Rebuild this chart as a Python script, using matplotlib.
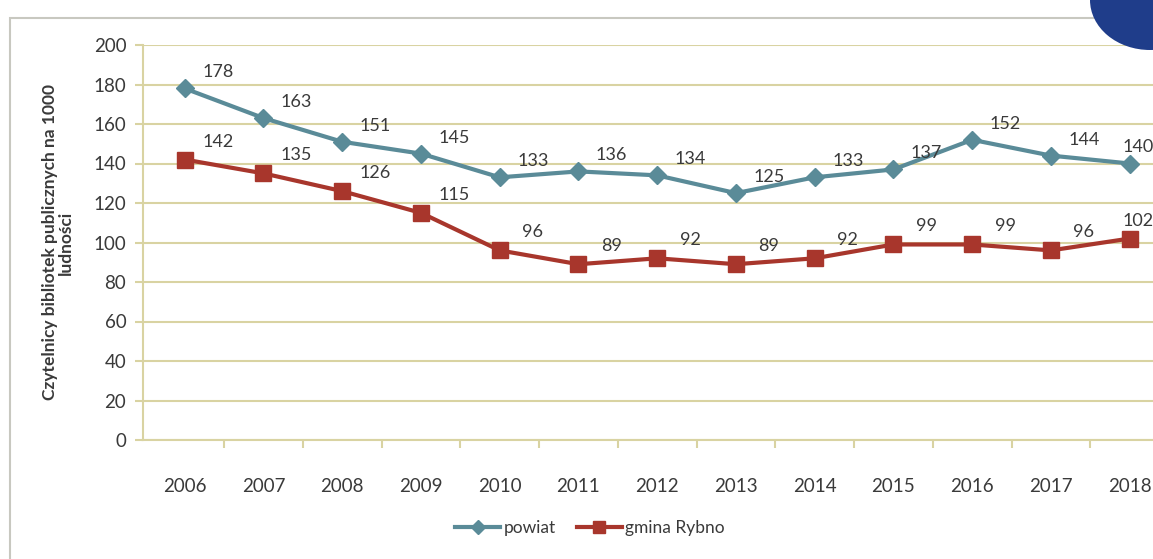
import matplotlib.pyplot as plt
from matplotlib.patches import Rectangle, Ellipse
from matplotlib.lines import Line2D

plt.rcParams['font.family'] = ['Lato', 'DejaVu Sans']

years = [2006, 2007, 2008, 2009, 2010, 2011, 2012, 2013, 2014, 2015, 2016, 2017, 2018]
powiat = [178, 163, 151, 145, 133, 136, 134, 125, 133, 137, 152, 144, 140]
gmina = [142, 135, 126, 115, 96, 89, 92, 89, 92, 99, 99, 96, 102]

blue = "#5a8b98"
red = "#a8362c"
grid_col = "#d9d3a2"
text_col = "#3a3a3a"

fig = plt.figure(figsize=(11.53, 5.59), dpi=100)

# chart frame from the scanned page
fig.patches.append(Rectangle((10 / 1153, -0.1), 1.2, 1 - 18 / 559 + 0.1,
                             transform=fig.transFigure, fill=False,
                             edgecolor="#c8c8c0", linewidth=1.5))
fig.patches.append(Ellipse((1150 / 1153, 1 - 0 / 559), 120 / 1153, 100 / 559,
                           transform=fig.transFigure, facecolor="#1f3d8a",
                           edgecolor="none"))

ax = fig.add_axes([143 / 1153, 1 - 440 / 559, 1030 / 1153, 395 / 559])

x = list(range(len(years)))
ax.plot(x, powiat, color=blue, linewidth=3, marker="D", markersize=9,
        markerfacecolor=blue, markeredgecolor=blue, label="powiat", zorder=3)
ax.plot(x, gmina, color=red, linewidth=3, marker="s", markersize=11,
        markerfacecolor=red, markeredgecolor=red, label="gmina Rybno", zorder=3)

for i in x:
    dx = 33 if i < len(x) - 1 else 8
    ax.annotate(str(powiat[i]), (i, powiat[i]), xytext=(dx, 16), textcoords="offset pixels",
                ha="center", va="center", fontsize=13, color=text_col)
    ax.annotate(str(gmina[i]), (i, gmina[i]), xytext=(dx, 18), textcoords="offset pixels",
                ha="center", va="center", fontsize=13, color=text_col)

ax.set_xlim(-0.53, 12.55)
ax.set_ylim(0, 200)
ax.set_yticks(range(0, 201, 20))
ax.yaxis.grid(True, color=grid_col, linewidth=1.5)
ax.set_axisbelow(True)

ax.set_xticks(x)
ax.set_xticklabels([str(y) for y in years])
ax.set_xticks([i + 0.5 for i in x[:-1]], minor=True)
ax.tick_params(axis="x", which="major", length=0, pad=27, labelsize=13.5, colors=text_col)
ax.tick_params(axis="x", which="minor", length=6, color=grid_col, width=1.5)
ax.tick_params(axis="y", length=6, color=grid_col, width=1.5, labelsize=13.5,
               colors=text_col, pad=6)

for side in ["top", "right"]:
    ax.spines[side].set_visible(False)
ax.spines["left"].set_color(grid_col)
ax.spines["bottom"].set_color(grid_col)
ax.spines["left"].set_linewidth(1.5)
ax.spines["bottom"].set_linewidth(1.5)

ax.set_ylabel("Czytelnicy bibliotek publicznych na 1000\nludności", fontsize=12.5,
              fontweight="bold", color=text_col, labelpad=14, linespacing=1.0)

handles = [Line2D([], [], color=blue, linewidth=3, marker="D", markersize=7),
           Line2D([], [], color=red, linewidth=3, marker="s", markersize=9)]
fig.legend(handles, ["powiat", "gmina Rybno"], loc="center",
           bbox_to_anchor=(590 / 1153, 1 - 528 / 559), ncol=2, frameon=False,
           fontsize=12.5, handlelength=2.6, columnspacing=1.2, handletextpad=0.2,
           labelcolor=text_col)

fig.savefig("out.png", dpi=100)
